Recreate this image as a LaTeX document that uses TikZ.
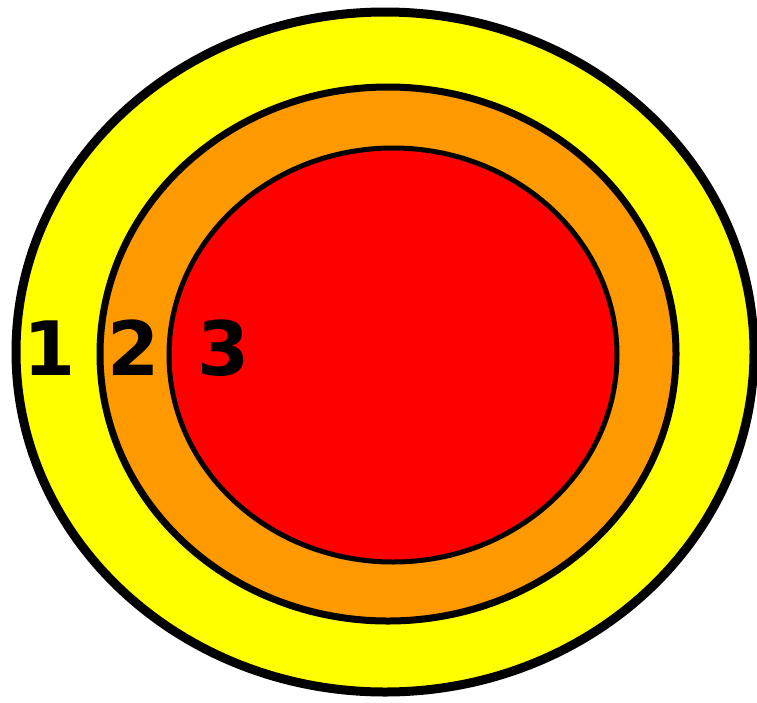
\documentclass[tikz,border=0pt]{standalone}
\usepackage{fontspec}
\setmainfont{DejaVu Sans}
\usepackage{tikz}
\definecolor{ringone}{RGB}{255,255,0}
\definecolor{ringtwo}{RGB}{255,153,0}
\definecolor{ringthree}{RGB}{255,0,0}
\newcommand{\ringlabel}[3]{%
  \node[lbl] (#1) at (#2,-375) {#3};%
}
\begin{document}
\begin{tikzpicture}[x=1pt,y=1pt,
  lbl/.style={anchor=base,inner sep=0pt,font=\bfseries\fontsize{75}{80}\selectfont}]
  \useasboundingbox (0,0) rectangle (757,-702);
  \filldraw[fill=ringone,line width=9pt] (385,-352) ellipse [x radius=369,y radius=340];
  \filldraw[fill=ringtwo,line width=7pt] (388,-354) ellipse [x radius=288,y radius=267];
  \filldraw[fill=ringthree,line width=5pt] (393,-355) ellipse [x radius=224,y radius=207];
  \ringlabel{one}{50}{1}
  \ringlabel{two}{134}{2}
  \ringlabel{three}{224}{3}
\end{tikzpicture}
\end{document}
